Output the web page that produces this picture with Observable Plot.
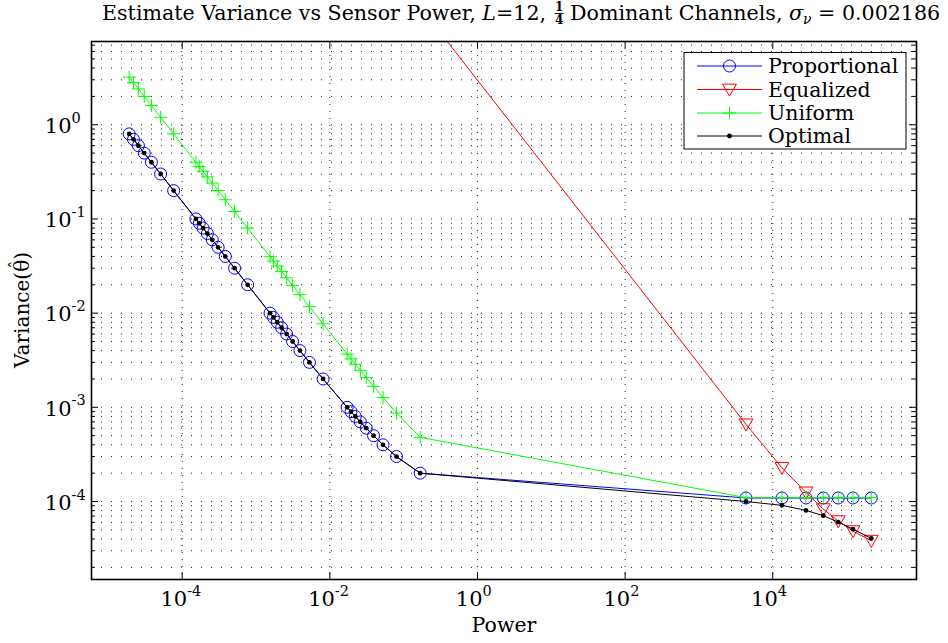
<!DOCTYPE html>
<html><head><meta charset="utf-8">
<script src="https://cdn.jsdelivr.net/npm/d3@7"></script>
<script src="https://cdn.jsdelivr.net/npm/@observablehq/plot@0.6"></script>
<style>body{margin:0;background:#fff}svg{display:block}</style>
</head><body><div id="chart"></div>
<script>
// Sensor power values (shared by Proportional, Uniform, Optimal)
const powers = [
  1.913e-5, 2.186e-5, 2.550e-5, 3.061e-5, 3.826e-5, 5.102e-5, 7.654e-5,
  1.532e-4, 1.702e-4, 1.915e-4, 2.189e-4, 2.555e-4, 3.067e-4, 3.834e-4, 5.119e-4, 7.692e-4,
  1.547e-3, 1.721e-3, 1.939e-3, 2.220e-3, 2.597e-3, 3.128e-3, 3.932e-3, 5.292e-3, 8.089e-3,
  0.01716, 0.01933, 0.02213, 0.02587, 0.03114, 0.03909, 0.05250, 0.07994, 0.1674,
  4335, 13330, 28180, 48340, 77200, 122100, 216100
];
const proportional = [
  0.8, 0.7, 0.6, 0.5, 0.4, 0.3, 0.2,
  0.1, 0.09, 0.08, 0.07, 0.06, 0.05, 0.04, 0.03, 0.02,
  0.01, 0.009, 0.008, 0.007, 0.006, 0.005, 0.004, 0.003, 0.002,
  0.001, 9e-4, 8e-4, 7e-4, 6e-4, 5e-4, 4e-4, 3e-4, 2e-4,
  1.09e-4, 1.09e-4, 1.09e-4, 1.09e-4, 1.09e-4, 1.09e-4, 1.09e-4
];
const uniform = [
  3.2, 2.8, 2.4, 2.0, 1.6, 1.2, 0.8,
  0.4, 0.36, 0.32, 0.28, 0.24, 0.2, 0.16, 0.12, 0.08,
  0.0397, 0.0357, 0.0317, 0.0277, 0.0237, 0.0197, 0.0157, 0.0117, 0.0077,
  0.00367, 0.00327, 0.00287, 0.00247, 0.00207, 0.00167, 0.00127, 8.7e-4, 4.8e-4,
  1.1e-4, 1.1e-4, 1.1e-4, 1.1e-4, 1.1e-4, 1.1e-4, 1.1e-4
];
const optimal = [
  0.8, 0.7, 0.6, 0.5, 0.4, 0.3, 0.2,
  0.1, 0.09, 0.08, 0.07, 0.06, 0.05, 0.04, 0.03, 0.02,
  0.01, 0.009, 0.008, 0.007, 0.006, 0.005, 0.004, 0.003, 0.002,
  0.001, 9e-4, 8e-4, 7e-4, 6e-4, 5e-4, 4e-4, 3e-4, 2e-4,
  1.0e-4, 9.1e-5, 8.05e-5, 7.07e-5, 6.04e-5, 5.09e-5, 4.06e-5
];
// Equalized: the earlier points are far above the plot
const equalizedPowers = [0.1674, 4335, 13330, 28180, 48340, 77200, 122100, 216100];
const equalized = [17.9, 6.6e-4, 2.28e-4, 1.25e-4, 8.3e-5, 6.2e-5, 4.85e-5, 3.84e-5];

const seriesNames = ["Proportional", "Equalized", "Uniform", "Optimal"];
const seriesColors = ["#0000ff", "#ff0000", "#00ff00", "#000000"];
const xTickValues = [1e-4, 1e-2, 1, 1e2, 1e4];
const xTickExponents = ["-4", "-2", "0", "2", "4"];
const yTickValues = [1e-4, 1e-3, 1e-2, 1e-1, 1];
const yTickExponents = ["-4", "-3", "-2", "-1", "0"];

const W = 948, H = 643, mL = 91, mR = 32, mT = 41, mB = 64;
const iw = W - mL - mR, ih = H - mT - mB;
const xDomain = [Math.pow(10, -5.229), Math.pow(10, 5.947)];
const yDomain = [Math.pow(10, -4.828), Math.pow(10, 0.884)];
const yAllTicks = d3.scaleLog().domain(yDomain).ticks();
const yMinorTicks = yAllTicks.filter(v => !yTickValues.some(t => Math.abs(t - v) / t < 1e-9));

const triDown = {draw(ctx, size) {
  const r = Math.sqrt(size / Math.PI);
  ctx.moveTo(-1.1 * r, -0.85 * r); ctx.lineTo(1.1 * r, -0.85 * r); ctx.lineTo(0, 1.05 * r); ctx.closePath();
}};
const plusSym = {draw(ctx, size) {
  const r = Math.sqrt(size / Math.PI);
  ctx.moveTo(-r, 0); ctx.lineTo(r, 0); ctx.moveTo(0, -r); ctx.lineTo(0, r);
}};

const rows = (xs, ys) => xs.map((x, i) => ({x, y: ys[i]}));
const propRows = rows(powers, proportional);
const uniRows = rows(powers, uniform);
const optRows = rows(powers, optimal);
const eqRows = rows(equalizedPowers, equalized);

const fontFamily = "DejaVu Serif";
const chart = Plot.plot({
  width: W, height: H, marginLeft: mL, marginRight: mR, marginTop: mT, marginBottom: mB,
  x: {type: "log", domain: xDomain, axis: null},
  y: {type: "log", domain: yDomain, axis: null},
  style: {fontFamily, background: "white", color: "black"},
  marks: [
    Plot.ruleY(yAllTicks, {y: d => d, stroke: "#222", strokeWidth: 1, strokeDasharray: "1,9"}),
    Plot.ruleX(xTickValues, {x: d => d, stroke: "#222", strokeWidth: 1, strokeDasharray: "1,6"}),
    Plot.line(propRows, {x: "x", y: "y", stroke: seriesColors[0], strokeWidth: 1}),
    Plot.dot(propRows, {x: "x", y: "y", r: 6, stroke: seriesColors[0], fill: "none", strokeWidth: 1}),
    Plot.line(eqRows, {x: "x", y: "y", stroke: seriesColors[1], strokeWidth: 1, clip: true}),
    Plot.dot(eqRows, {x: "x", y: "y", r: 6.3, symbol: triDown, stroke: seriesColors[1], fill: "none", strokeWidth: 1, clip: true}),
    Plot.line(uniRows, {x: "x", y: "y", stroke: seriesColors[2], strokeWidth: 1}),
    Plot.dot(uniRows, {x: "x", y: "y", r: 6.5, symbol: plusSym, stroke: seriesColors[2], fill: "none", strokeWidth: 1}),
    Plot.line(optRows, {x: "x", y: "y", stroke: seriesColors[3], strokeWidth: 1}),
    Plot.dot(optRows, {x: "x", y: "y", r: 2.4, fill: seriesColors[3], stroke: "none"}),
    Plot.frame({stroke: "black", strokeWidth: 1.6}),
    // inward ticks
    Plot.tickX(xTickValues, {x: d => d, insetTop: ih - 7, stroke: "black"}),
    Plot.tickX(xTickValues, {x: d => d, insetBottom: ih - 7, stroke: "black"}),
    Plot.tickY(yTickValues, {y: d => d, insetRight: iw - 7, stroke: "black"}),
    Plot.tickY(yTickValues, {y: d => d, insetLeft: iw - 7, stroke: "black"}),
    Plot.tickY(yMinorTicks, {y: d => d, insetRight: iw - 4, stroke: "black"}),
    Plot.tickY(yMinorTicks, {y: d => d, insetLeft: iw - 4, stroke: "black"}),
    // tick labels
    Plot.text(xTickValues, {x: d => d, text: () => "10", frameAnchor: "bottom", textAnchor: "end", dx: 5, dy: 26.5, fontSize: 21, fill: "black"}),
    Plot.text(xTickValues, {x: d => d, text: (d, i) => xTickExponents[i], frameAnchor: "bottom", textAnchor: "start", dx: 5, dy: 16, fontSize: 14.5, fill: "black"}),
    Plot.text(yTickValues, {y: d => d, text: () => "10", frameAnchor: "left", textAnchor: "end", dx: -20, dy: 1.6, fontSize: 21, fill: "black"}),
    Plot.text(yTickValues, {y: d => d, text: (d, i) => yTickExponents[i], frameAnchor: "left", textAnchor: "start", dx: -20, dy: -6.5, fontSize: 14.5, fill: "black"}),
    // x axis label
    Plot.text(["Power"], {text: d => d, frameAnchor: "bottom", dy: 52, fontSize: 20.5, fill: "black"})
  ]
});
document.getElementById("chart").appendChild(chart);

const svg = d3.select(chart);

// Y axis label with a hat over theta
const yl = svg.append("g").attr("transform", `translate(29,${mT + ih / 2}) rotate(-90)`)
  .attr("font-family", fontFamily).attr("fill", "black");
const ylt = yl.append("text").attr("x", 0).attr("y", 0).attr("font-size", 20).attr("text-anchor", "middle")
  .text("Variance(\u03B8)");
const thetaIdx = 9;
const p0 = ylt.node().getStartPositionOfChar(thetaIdx), p1 = ylt.node().getEndPositionOfChar(thetaIdx);
yl.append("text").attr("x", (p0.x + p1.x) / 2 + 1).attr("y", -8).attr("font-size", 16).attr("text-anchor", "middle").text("\u02C6");

// Title
const tg = svg.append("g").attr("font-family", fontFamily).attr("fill", "black").attr("text-anchor", "start");
const tx0 = 102, tBase = 20, tSize = 20.6;
const t1 = tg.append("text").attr("x", tx0).attr("y", tBase).attr("font-size", tSize);
t1.append("tspan").text("Estimate Variance vs Sensor Power, ");
t1.append("tspan").attr("font-style", "italic").text("L");
t1.append("tspan").text("=12,");
const w1 = t1.node().getComputedTextLength();
const fx = tx0 + w1 + 13;
tg.append("text").attr("x", fx).attr("y", 11).attr("font-size", 12).attr("font-weight", "bold").attr("text-anchor", "middle").text("1");
tg.append("line").attr("x1", fx - 4.5).attr("x2", fx + 4.5).attr("y1", 13.5).attr("y2", 13.5).attr("stroke", "black").attr("stroke-width", 0.9);
tg.append("text").attr("x", fx).attr("y", 24).attr("font-size", 12).attr("font-weight", "bold").attr("text-anchor", "middle").text("4");
const t3 = tg.append("text").attr("x", fx + 11).attr("y", tBase).attr("font-size", tSize);
t3.append("tspan").text("Dominant Channels, ");
t3.append("tspan").attr("font-style", "italic").text("\u03C3");
t3.append("tspan").attr("font-style", "italic").attr("font-size", 14).attr("dy", 4).text("\u03BD");
t3.append("tspan").attr("dy", -4).text(" = 0.002186");

// Legend
const lg = svg.append("g").attr("font-family", fontFamily).attr("text-anchor", "start");
lg.append("rect").attr("x", 684).attr("y", 52.5).attr("width", 222).attr("height", 96.5)
  .attr("fill", "white").attr("stroke", "black").attr("stroke-width", 1);
const legendY = [66, 89.5, 113, 136];
const symSpecs = [
  {type: d3.symbolCircle, r: 6, fill: "none"},
  {type: triDown, r: 6.3, fill: "none"},
  {type: plusSym, r: 6.5, fill: "none"},
  {type: d3.symbolCircle, r: 2.4, fill: "black"}
];
seriesNames.forEach((name, i) => {
  const y = legendY[i];
  lg.append("line").attr("x1", 697).attr("x2", 762).attr("y1", y).attr("y2", y)
    .attr("stroke", seriesColors[i]).attr("stroke-width", 1);
  const s = symSpecs[i];
  lg.append("path").attr("transform", `translate(729.5,${y})`)
    .attr("d", d3.symbol(s.type, s.r * s.r * Math.PI)())
    .attr("fill", s.fill === "none" ? "none" : seriesColors[i])
    .attr("stroke", s.fill === "none" ? seriesColors[i] : "none").attr("stroke-width", 1);
  lg.append("text").attr("x", 768).attr("y", y + 7).attr("font-size", 20.5).attr("fill", "black").text(name);
});
</script></body></html>
